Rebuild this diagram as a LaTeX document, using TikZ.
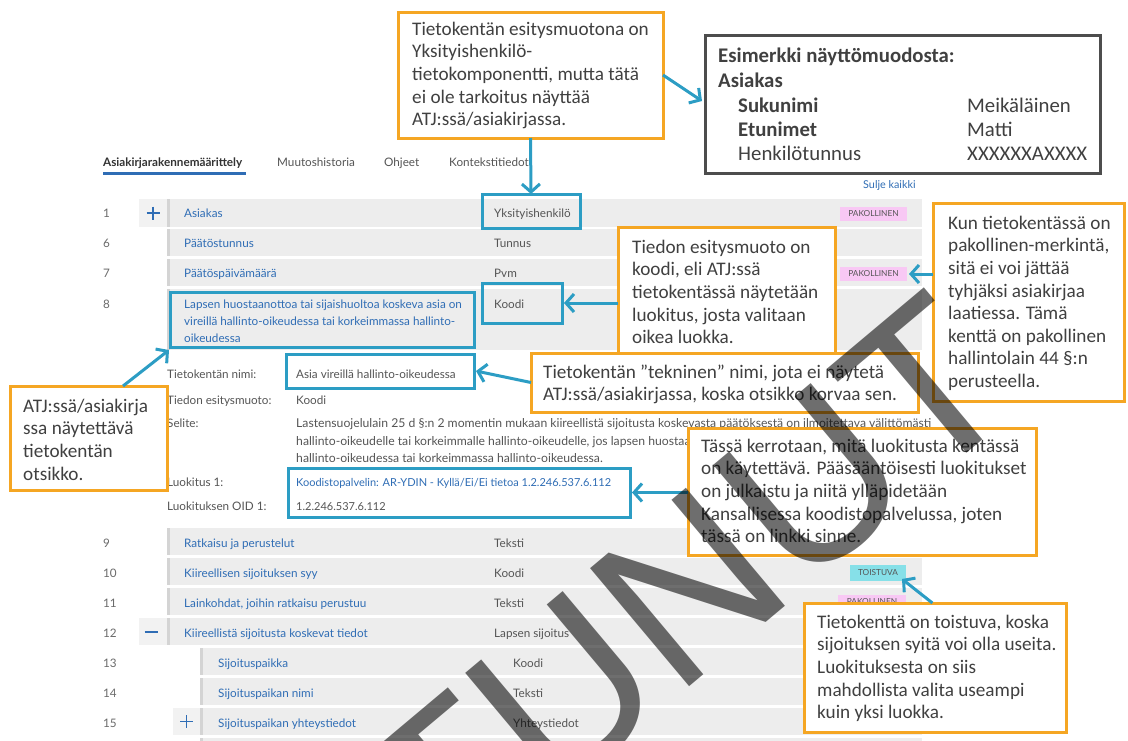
\documentclass[tikz,border=0pt]{standalone}
\usepackage{fontspec}
\setmainfont{Carlito}
\newfontfamily\uifont{Lato}
\newfontfamily\wmfont{Liberation Sans}
\usetikzlibrary{arrows.meta,calc}

\definecolor{calloutorange}{HTML}{F5A623}
\definecolor{pointerteal}{HTML}{2C9DC4}
\definecolor{notetext}{HTML}{404040}
\definecolor{framegray}{HTML}{4D4D4D}
\definecolor{rowgray}{HTML}{EDEDED}
\definecolor{rowedge}{HTML}{D4D4D4}
\definecolor{cellgray}{HTML}{F2F2F2}
\definecolor{linkblue}{HTML}{2F6DB5}
\definecolor{typegray}{HTML}{555555}
\definecolor{numgray}{HTML}{6A6A6A}
\definecolor{tagpink}{HTML}{F8C8F4}
\definecolor{tagcyan}{HTML}{86E0E8}

\tikzset{
  box/.style={anchor=north west, inner sep=0pt, outer sep=0pt},
  note/.style={box, draw=calloutorange, line width=3pt, fill=white},
  pick/.style={box, draw=pointerteal, line width=3pt},
  notetxt/.style={anchor=north west, inner sep=0pt, align=left, text=notetext,
    font=\fontsize{19.2}{22.6}\selectfont},
  exfont/.style={anchor=base west, inner sep=0pt, text=notetext,
    font=\fontsize{20.8}{22}\selectfont},
  exbold/.style={exfont, font=\bfseries\fontsize{20.8}{22}\selectfont},
  ptr/.style={draw=pointerteal, line width=3pt, -{Straight Barb[length=8pt,width=18pt]}},
  ui/.style={anchor=base west, inner sep=0pt, font=\uifont\fontsize{11.7}{13}\selectfont},
  lbl/.style={ui, text=linkblue},
  typ/.style={ui, text=typegray},
  num/.style={ui, text=numgray},
  selite/.style={typ, font=\uifont\fontsize{12.2}{13}\selectfont},
  tag/.style={box, font=\uifont\fontsize{8.3}{8}\selectfont, text=typegray},
}

\begin{document}
\begin{tikzpicture}[x=1pt,y=-1pt]
\useasboundingbox (0,0) rectangle (1128,740);
\fill[white] (0,0) rectangle (1128,740);

% ---- tabs ----
\node[ui, font=\uifont\bfseries\fontsize{11.7}{13}\selectfont, text=black!80] (tab1) at (103,166) {Asiakirjarakennemäärittely};
\fill[linkblue] (103,172) rectangle (246,174.5);
\node[typ] (tab2) at (277,166) {Muutoshistoria};
\node[typ] (tab3) at (384,166) {Ohjeet};
\node[typ] (tab4) at (449,166) {Kontekstitiedot};
\node[ui, text=linkblue, font=\uifont\fontsize{10.8}{12}\selectfont] (close) at (863,188) {Sulje kaikki};

% ---- row backgrounds ----
\foreach \ya/\yb in {199/227, 229/256, 259/286, 289/350, 528/555, 558/585, 588/615, 618/645} {
  \fill[rowgray] (167,\ya) rectangle (922,\yb);
  \fill[rowedge] (167,\ya) rectangle (169.5,\yb);
}
\foreach \ya/\yb in {648/675, 678/705, 708/735, 738/745} {
  \fill[rowgray] (200,\ya) rectangle (922,\yb);
  \fill[rowedge] (200,\ya) rectangle (202.5,\yb);
}
\fill[cellgray] (139,199) rectangle (167,227);
\fill[cellgray] (139,618) rectangle (167,645);
\fill[cellgray] (173,708) rectangle (200,735);
\draw[linkblue, line width=1.6pt] (146.5,213) -- (159.5,213) (153,206.5) -- (153,219.5);
\draw[linkblue, line width=1.6pt] (144.5,632) -- (157.5,632);
\draw[linkblue, line width=1.6pt] (180,721.5) -- (193,721.5) (186.5,715) -- (186.5,728);

% ---- rows ----
\node[num] (n1) at (103,217) {1};
\node[lbl] (l1) at (184,217) {Asiakas};
\node[typ] (y1) at (494,217) {Yksityishenkilö};

\node[num] (n6) at (103,247) {6};
\node[lbl] (l6) at (184,247) {Päätöstunnus};
\node[typ] (y6) at (494,247) {Tunnus};

\node[num] (n7) at (103,277) {7};
\node[lbl] (l7) at (184,277) {Päätöspäivämäärä};
\node[typ] (y7) at (494,277) {Pvm};

\node[num] (n8) at (103,308) {8};
\node[lbl] (l8a) at (184,308) {Lapsen huostaanottoa tai sijaishuoltoa koskeva asia on};
\node[lbl] (l8b) at (184,325) {vireillä hallinto-oikeudessa tai korkeimmassa hallinto-};
\node[lbl] (l8c) at (184,342) {oikeudessa};
\node[typ] (y8) at (494,308) {Koodi};

% ---- field details ----
\node[typ] (f1) at (167,378) {Tietokentän nimi:};
\node[typ] (f1v) at (296,378) {Asia vireillä hallinto-oikeudessa};
\node[typ] (f2) at (167,404) {Tiedon esitysmuoto:};
\node[typ] (f2v) at (296,404) {Koodi};
\node[typ] (f3) at (167,427) {Selite:};
\node[selite] (f3a) at (296,427) {Lastensuojelulain 25 d §:n 2 momentin mukaan kiireellistä sijoitusta koskevasta päätöksestä on ilmoitettava välittömästi};
\node[selite] (f3b) at (296,445) {hallinto-oikeudelle tai korkeimmalle hallinto-oikeudelle, jos lapsen huostaanottoa tai sijaishuoltoa koskeva asia on vireillä};
\node[selite] (f3c) at (296,462) {hallinto-oikeudessa tai korkeimmassa hallinto-oikeudessa.};
\node[typ] (f4) at (167,486) {Luokitus 1:};
\node[lbl, font=\uifont\fontsize{11}{12}\selectfont] (f4v) at (296,486) {Koodistopalvelin: AR-YDIN - Kyllä/Ei/Ei tietoa 1.2.246.537.6.112};
\node[typ] (f5) at (167,510) {Luokituksen OID 1:};
\node[typ, font=\uifont\fontsize{11}{12}\selectfont] (f5v) at (296,510) {1.2.246.537.6.112};

% ---- lower rows ----
\node[num] (n9) at (103,547) {9};
\node[lbl] (l9) at (184,547) {Ratkaisu ja perustelut};
\node[typ] (y9) at (494,547) {Teksti};
\node[num] (n10) at (103,577) {10};
\node[lbl] (l10) at (184,577) {Kiireellisen sijoituksen syy};
\node[typ] (y10) at (494,577) {Koodi};
\node[num] (n11) at (103,607) {11};
\node[lbl] (l11) at (184,607) {Lainkohdat, joihin ratkaisu perustuu};
\node[typ] (y11) at (494,607) {Teksti};
\node[num] (n12) at (103,637) {12};
\node[lbl] (l12) at (184,637) {Kiireellistä sijoitusta koskevat tiedot};
\node[typ] (y12) at (494,637) {Lapsen sijoitus};
\node[num] (n13) at (103,667) {13};
\node[lbl] (l13) at (218,667) {Sijoituspaikka};
\node[typ] (y13) at (513,667) {Koodi};
\node[num] (n14) at (103,697) {14};
\node[lbl] (l14) at (218,697) {Sijoituspaikan nimi};
\node[typ] (y14) at (513,697) {Teksti};
\node[num] (n15) at (103,727) {15};
\node[lbl] (l15) at (218,727) {Sijoituspaikan yhteystiedot};
\node[typ] (y15) at (513,727) {Yhteystiedot};

% ---- status tags ----
\node[tag, fill=tagpink, minimum width=67pt, minimum height=14pt] (pak1) at (840,207) {PAKOLLINEN};
\node[tag, fill=tagpink, minimum width=67pt, minimum height=14pt] (pak7) at (840,267) {PAKOLLINEN};
\node[tag, fill=tagpink, minimum width=68pt, minimum height=14pt] (pak11) at (838,595) {PAKOLLINEN};
\node[tag, fill=tagcyan, minimum width=56pt, minimum height=16pt] (toist) at (850,565) {TOISTUVA};

% ---- highlighted fields ----
\node[pick, minimum width=98pt, minimum height=34pt] (ybox) at (482,194) {};
\node[pick, minimum width=80pt, minimum height=40pt] (kbox) at (482,283) {};
\node[pick, minimum width=304pt, minimum height=55pt] (lbox) at (170,292) {};
\node[pick, minimum width=188pt, minimum height=34pt] (nbox) at (286,354) {};
\node[pick, minimum width=342pt, minimum height=49pt] (kpbox) at (288,468) {};

% ---- explanation boxes ----
\node[note, minimum width=265pt, minimum height=126pt] (c1) at (398,12) {};
\node[notetxt] (t1) at (412,20) {\rule{0pt}{15pt}Tietokentän esitysmuotona on\\Yksityishenkilö-\\tietokomponentti, mutta tätä\\ei ole tarkoitus näyttää\\ATJ:ssä/asiakirjassa.};

\node[box, draw=framegray, line width=3pt, fill=white, minimum width=395pt, minimum height=138pt] (ex) at (705,35) {};
\node[exbold] (e1) at (718,62) {Esimerkki näyttömuodosta:};
\node[exbold] (e2) at (718,87) {Asiakas};
\node[exbold] (e3) at (738,112) {Sukunimi};
\node[exfont] (e3v) at (967,112) {Meikäläinen};
\node[exbold] (e4) at (738,136) {Etunimet};
\node[exfont] (e4v) at (967,136) {Matti};
\node[exfont] (e5) at (738,160) {Henkilötunnus};
\node[exfont] (e5v) at (967,160) {XXXXXXAXXXX};

\node[note, minimum width=191pt, minimum height=198pt] (c2) at (933,203) {};
\node[notetxt] (t2) at (948,214) {\rule{0pt}{15pt}Kun tietokentässä on\\pakollinen-merkintä,\\sitä ei voi jättää\\tyhjäksi asiakirjaa\\laatiessa. Tämä\\kenttä on pakollinen\\hallintolain 44 §:n\\perusteella.};

\node[note, minimum width=217pt, minimum height=126pt] (c3) at (618,227) {};
\node[notetxt] (t3) at (632,238) {\rule{0pt}{15pt}Tiedon esitysmuoto on\\koodi, eli ATJ:ssä\\tietokentässä näytetään\\luokitus, josta valitaan\\oikea luokka.};

\node[note, minimum width=387pt, minimum height=59pt] (c4) at (531,353) {};
\node[notetxt] (t4) at (543,363) {\rule{0pt}{15pt}Tietokentän ”tekninen” nimi, jota ei näytetä\\ATJ:ssä/asiakirjassa, koska otsikko korvaa sen.};

\node[note, minimum width=157pt, minimum height=104pt] (c5) at (10,386) {};
\node[notetxt] (t5) at (23,397) {\rule{0pt}{15pt}ATJ:ssä/asiakirja\\ssa näytettävä\\tietokentän\\otsikko.};

\node[note, minimum width=348pt, minimum height=127pt] (c6) at (688,428) {};
\node[notetxt] (t6) at (701,437) {\rule{0pt}{15pt}Tässä kerrotaan, mitä luokitusta kentässä\\on käytettävä. Pääsääntöisesti luokitukset\\on julkaistu ja niitä ylläpidetään\\Kansallisessa koodistopalvelussa, joten\\tässä on linkki sinne.};

\node[note, minimum width=262pt, minimum height=129pt] (c7) at (804,603) {};
\node[notetxt] (t7) at (817,613) {\rule{0pt}{15pt}Tietokenttä on toistuva, koska\\sijoituksen syitä voi olla useita.\\Luokituksesta on siis\\mahdollista valita useampi\\kuin yksi luokka.};

% ---- pointers ----
\draw[ptr] (c1.south) -- (ybox.north);
\draw[ptr] (c1.east) -- ($(ex.west)+(-3,-3)$);
\draw[ptr] (c3.west |- kbox.east) -- ($(kbox.east)+(2,0)$);
\draw[ptr] (c2.west |- pak7.east) -- ($(pak7.east)+(2,0)$);
\draw[ptr] (c4.west) -- ($(nbox.east)+(2,0)$);
\draw[ptr] ($(c5.north west)!0.72!(c5.north east)$) -- ($(lbox.south west)+(-1,3)$);
\draw[ptr] (c6.west |- kpbox.east) -- ($(kpbox.east)+(2,0)$);
\draw[ptr] ($(c7.north west)!0.49!(c7.north east)$) -- ($(toist.south east)+(-4,-2)$);

% ---- watermark ----
\node[rotate=40, anchor=base east, inner sep=0pt, text=black, text opacity=0.57,
  font=\wmfont\fontsize{224}{224}\selectfont] (wm) at (1028,402) {VANHENTUNUT};
\end{tikzpicture}
\end{document}
